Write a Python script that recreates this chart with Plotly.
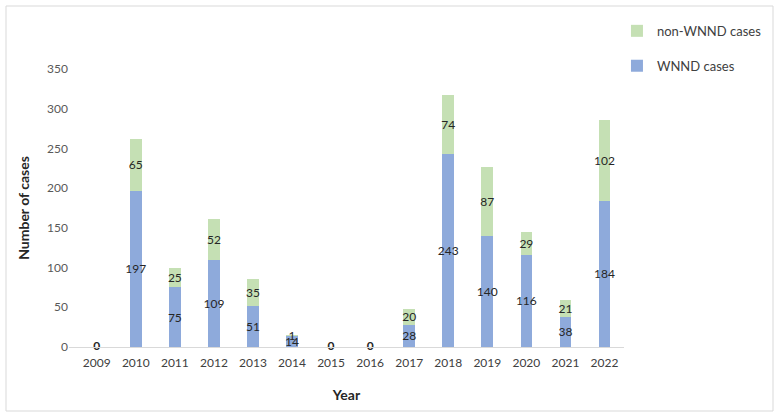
import plotly.graph_objects as go

years = ["2009", "2010", "2011", "2012", "2013", "2014", "2015",
         "2016", "2017", "2018", "2019", "2020", "2021", "2022"]
wnnd = [0, 197, 75, 109, 51, 14, 0, 0, 28, 243, 140, 116, 38, 184]
non_wnnd = [0, 65, 25, 52, 35, 1, 0, 0, 20, 74, 87, 29, 21, 102]

FONT = "Lato, 'Open Sans', sans-serif"
BLUE = "#8eaadb"
GREEN = "#c5e0b4"
LABEL = "#262626"


def bar_text(vals):
    return [str(v) if v > 0 else "" for v in vals]


fig = go.Figure()
fig.add_trace(go.Bar(
    x=years, y=wnnd, name="WNND cases",
    marker_color=BLUE, marker_line_width=0,
    text=bar_text(wnnd), textposition="inside", insidetextanchor="middle",
    constraintext="none", textangle=0,
    insidetextfont=dict(color=LABEL, size=12, family=FONT),
    legendgroup="a", legendrank=2,
))
fig.add_trace(go.Bar(
    x=years, y=non_wnnd, name="non-WNND cases",
    marker_color=GREEN, marker_line_width=0,
    text=bar_text(non_wnnd), textposition="inside", insidetextanchor="middle",
    constraintext="none", textangle=0,
    insidetextfont=dict(color=LABEL, size=12, family=FONT),
    legendgroup="b", legendrank=1,
))

# bold zero labels for years with no cases
zero_years = [y for y, a, b in zip(years, wnnd, non_wnnd) if a + b == 0]
fig.add_trace(go.Scatter(
    x=zero_years, y=[0] * len(zero_years), mode="text",
    text=["<b>0</b>"] * len(zero_years), textposition="middle center",
    textfont=dict(color=LABEL, size=12, family=FONT),
    showlegend=False, hoverinfo="skip", cliponaxis=False,
))

fig.update_layout(
    width=779, height=418,
    barmode="stack", bargap=0.7,
    margin=dict(l=69, r=155, t=69, b=71, autoexpand=False),
    paper_bgcolor="white", plot_bgcolor="white",
    font=dict(family=FONT, color="#404040", size=12),
    showlegend=True,
    legend=dict(
        xref="container", yref="container",
        x=0.792, y=0.962, xanchor="left", yanchor="top",
        font=dict(size=13, color="#404040", family=FONT),
        tracegroupgap=15, itemwidth=30,
        bgcolor="rgba(0,0,0,0)",
    ),
    xaxis=dict(
        title=dict(text="<b>Year</b>", font=dict(size=14, color="#262626"), standoff=20),
        showgrid=False, showline=True, linecolor="#d9d9d9", linewidth=1,
        ticks="", ticklabelstandoff=5, tickfont=dict(size=12, color="#404040"),
    ),
    yaxis=dict(
        title=dict(text="<b>Number of cases</b>", font=dict(size=14, color="#262626"), standoff=14),
        range=[0, 350], dtick=50, showgrid=False, showline=False,
        zeroline=False, ticks="", tickfont=dict(size=12, color="#595959"),
    ),
    shapes=[dict(
        type="rect", xref="paper", yref="paper",
        x0=(6 - 69) / 555, x1=(773 - 69) / 555,
        y0=(347 - 411) / 278, y1=(347 - 6) / 278,
        line=dict(color="#d9d9d9", width=1), layer="below",
    )],
)

fig.write_html("out.html", config={"displayModeBar": False},
               post_script="document.body.style.margin='0';")
